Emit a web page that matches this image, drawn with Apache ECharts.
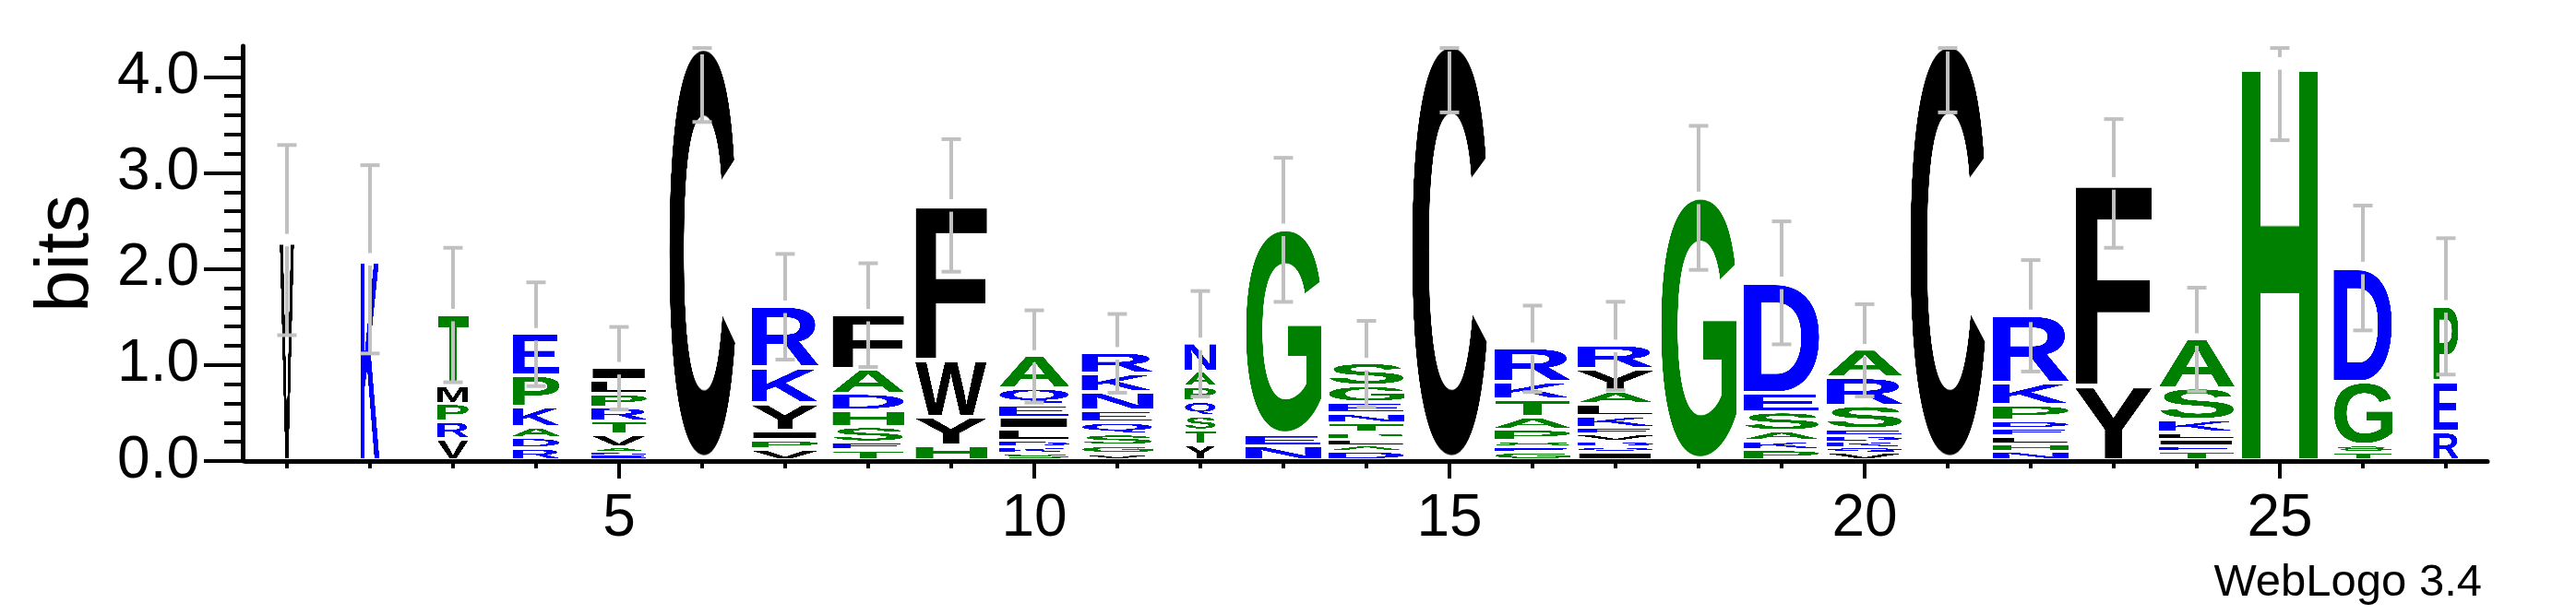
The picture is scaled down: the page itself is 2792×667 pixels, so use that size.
<!DOCTYPE html>
<html>
<head>
<meta charset="utf-8">
<script src="https://cdn.jsdelivr.net/npm/echarts@6/dist/echarts.min.js"></script>
<style>
html,body{margin:0;padding:0;background:#fff;}
#chart{width:2792px;height:667px;}
</style>
</head>
<body>
<div id="chart"></div>
<script>
// ---- data ----
const positions = [1,2,3,4,5,6,7,8,9,10,11,12,13,14,15,16,17,18,19,20,21,22,23,24,25,26,27];
// letters of each stack, bottom to top
const stackLetters = ['V','K','VRPMT','RDAKPE','EDAVTRPLI','C','VPIYKR','TESHDAF','HYWF','SKDLIEQA','VGSQENKR','YTSQPAN','NEG','DALPTNEGS','C','GESPATKR','IQDVEKLAYR','G','PKASED','VQKDESRA','C','NHLEDPKR','YF','TEILKSA','H','TSGD','REP'];
// letter heights in bits, bottom to top
const stackHeights = [
 [2.27],
 [2.07],
 [0.185,0.185,0.185,0.185,0.75],
 [0.09,0.11,0.11,0.21,0.33,0.44],
 [0.026,0.026,0.051,0.131,0.137,0.144,0.14,0.144,0.137],
 [4.27],
 [0.077,0.096,0.096,0.287,0.376,0.644],
 [0.067,0.083,0.163,0.172,0.175,0.255,0.574],
 [0.121,0.297,0.593,1.62],
 [0.041,0.061,0.067,0.12,0.122,0.131,0.172,0.345],
 [0.032,0.083,0.121,0.122,0.124,0.191,0.195,0.223],
 [0.13,0.145,0.15,0.15,0.155,0.16,0.30],
 [0.112,0.118,2.147],
 [0.06,0.06,0.065,0.067,0.099,0.102,0.112,0.175,0.239],
 [4.30],
 [0.05,0.055,0.06,0.121,0.128,0.182,0.185,0.357],
 [0.05,0.055,0.06,0.07,0.07,0.121,0.121,0.131,0.235,0.255],
 [2.71],
 [0.073,0.093,0.102,0.198,0.201,1.158],
 [0.047,0.055,0.06,0.06,0.065,0.246,0.293,0.297],
 [4.30],
 [0.06,0.075,0.078,0.08,0.082,0.163,0.236,0.708],
 [0.74,2.12],
 [0.057,0.06,0.065,0.07,0.131,0.335,0.517],
 [4.11],
 [0.05,0.07,0.66,1.20],
 [0.26,0.53,0.79]
];
// relative stack widths (fraction of sequences without gaps)
const stackWidths = [0.19,0.25,0.41,0.62,0.73,0.88,0.88,0.94,0.94,0.93,0.94,0.41,1,1,1,1,1,1,1,1,1,1,1,1,1,0.77,0.33];
// error bar half-lengths in bits
const errorHalf = [0.99,0.98,0.70,0.54,0.43,0.77,0.55,0.54,0.69,0.48,0.41,0.55,0.75,0.45,0.70,0.45,0.46,0.75,0.64,0.48,0.70,0.58,0.67,0.54,0.80,0.65,0.71];
const xMajorTicks = [5,10,15,20,25];
const yMajorTicks = [0,1,2,3,4];
const yMinorTicks = [0,0.2,0.4,0.6,0.8,1,1.2,1.4,1.6,1.8,2,2.2,2.4,2.6,2.8,3,3.2,3.4,3.6,3.8,4,4.2];
const yMax = 4.32;

// hydrophobicity colour scheme
const colorGroups = [
  {letters:'RKDENQ', color:'#0000ff'},
  {letters:'SGHTAP', color:'#008000'},
  {letters:'YVMCLFIW', color:'#000000'}
];
function letterColor(ch){
  for (const g of colorGroups) if (g.letters.indexOf(ch) >= 0) return g.color;
  return '#000000';
}

// ---- glyph images (tight bounding box, stretched to fill each box) ----
const glyphCache = {};
function glyph(ch){
  if (glyphCache[ch]) return glyphCache[ch];
  const fs = 600;
  const font = 'bold ' + fs + 'px "Liberation Sans", Arial, Helvetica, sans-serif';
  const m0 = document.createElement('canvas').getContext('2d');
  m0.font = font;
  const m = m0.measureText(ch);
  const l = m.actualBoundingBoxLeft, r = m.actualBoundingBoxRight;
  const a = m.actualBoundingBoxAscent, d = m.actualBoundingBoxDescent;
  const cv = document.createElement('canvas');
  cv.width = Math.max(1, Math.floor(l + r));
  cv.height = Math.max(1, Math.floor(a + d));
  const ctx = cv.getContext('2d');
  ctx.font = font;
  ctx.fillStyle = letterColor(ch);
  ctx.textBaseline = 'alphabetic';
  ctx.textAlign = 'left';
  ctx.fillText(ch, l, a);
  glyphCache[ch] = cv;
  return cv;
}

// ---- build series data ----
const stackBase = 0.03; // stacks sit just above the axis line
const letterData = [];
const letterInfo = [];
const errorData = [];
positions.forEach((pos, i) => {
  let y = stackBase;
  const letters = stackLetters[i];
  stackHeights[i].forEach((h, j) => {
    letterData.push([pos, y, y + h, stackWidths[i], j]);
    letterInfo.push(letters[j]);
    y += h;
  });
  errorData.push([pos, y, errorHalf[i]]);
});

const chart = echarts.init(document.getElementById('chart'), null, {renderer:'canvas'});
const labelFont = '"Liberation Sans", Arial, Helvetica, sans-serif';
const colWidth = 0.922;
const barGap = 0.065;
const errClip = 4.3;

const option = {
  animation: false,
  backgroundColor: '#ffffff',
  grid: {left: 266, right: 96, top: 50, bottom: 167, containLabel: false},
  xAxis: [
    {
      type: 'value', min: 0.5, max: 27.5, position: 'bottom',
      axisLine: {show: true, onZero: false, lineStyle: {color: '#000', width: 5}},
      axisTick: {show: true, customValues: positions, length: 8, lineStyle: {color: '#000', width: 4}},
      axisLabel: {show: false},
      splitLine: {show: false}
    },
    {
      type: 'value', min: 0.5, max: 27.5, position: 'bottom',
      axisLine: {show: false},
      axisTick: {show: true, customValues: xMajorTicks, length: 19, lineStyle: {color: '#000', width: 4}},
      axisLabel: {show: true, customValues: xMajorTicks, margin: 31, fontSize: 64, color: '#000', fontFamily: labelFont},
      splitLine: {show: false}
    }
  ],
  yAxis: [
    {
      type: 'value', min: 0, max: yMax, position: 'left', offset: 3,
      axisLine: {show: true, onZero: false, lineStyle: {color: '#000', width: 5}},
      axisTick: {show: true, customValues: yMinorTicks, length: 20, lineStyle: {color: '#000', width: 4}},
      axisLabel: {show: false},
      splitLine: {show: false}
    },
    {
      type: 'value', min: 0, max: yMax, position: 'left', offset: 3,
      axisLine: {show: false},
      axisTick: {show: true, customValues: yMajorTicks, length: 42, lineStyle: {color: '#000', width: 4}},
      axisLabel: {show: true, customValues: yMajorTicks, margin: 47, fontSize: 64, color: '#000', fontFamily: labelFont,
        formatter: v => Number(v).toFixed(1)},
      splitLine: {show: false},
      name: 'bits', nameLocation: 'middle', nameRotate: 90, nameGap: 150,
      nameTextStyle: {fontSize: 82, color: '#000', fontFamily: labelFont}
    }
  ],
  graphic: [
    {type: 'text', right: 102, top: 608, style: {text: 'WebLogo 3.4', fontSize: 49, fill: '#000', fontFamily: labelFont}}
  ],
  series: [
    {
      type: 'custom', xAxisIndex: 0, yAxisIndex: 0, clip: false, z: 2,
      encode: {x: 0, y: [1, 2]},
      data: letterData,
      renderItem: function(params, api){
        const x = api.value(0), y0 = api.value(1), y1 = api.value(2), w = api.value(3), k = api.value(4);
        const ch = letterInfo[params.dataIndex];
        const p0 = api.coord([x, y0]);
        const p1 = api.coord([x, y1]);
        const halfW = api.size([w * colWidth, 0])[0] / 2;
        const hh = p0[1] - p1[1];
        const inset = k === 0 ? 0 : Math.min(3.5, hh * 0.4);
        return {
          type: 'image',
          style: {image: glyph(ch), x: p0[0] - halfW, y: p1[1], width: 2 * halfW, height: Math.max(0.6, hh - inset)}
        };
      }
    },
    {
      type: 'custom', xAxisIndex: 0, yAxisIndex: 0, clip: false, z: 3,
      encode: {x: 0, y: 1},
      data: errorData,
      renderItem: function(params, api){
        const x = api.value(0), top = api.value(1), e = api.value(2);
        const hi = Math.min(top + e, errClip);
        const lo = top - e;
        const pHi = api.coord([x, hi]);
        const pHi2 = api.coord([x, Math.min(top + barGap, hi)]);
        const pLo2 = api.coord([x, top - barGap]);
        const pLo = api.coord([x, lo]);
        const capHalf = 10.5;
        const st = {stroke: '#c0c0c0', lineWidth: 4};
        return {
          type: 'group',
          children: [
            {type: 'line', shape: {x1: pHi[0], y1: pHi[1], x2: pHi2[0], y2: pHi2[1]}, style: st},
            {type: 'line', shape: {x1: pLo2[0], y1: pLo2[1], x2: pLo[0], y2: pLo[1]}, style: st},
            {type: 'line', shape: {x1: pHi[0] - capHalf, y1: pHi[1], x2: pHi[0] + capHalf, y2: pHi[1]}, style: st},
            {type: 'line', shape: {x1: pLo[0] - capHalf, y1: pLo[1], x2: pLo[0] + capHalf, y2: pLo[1]}, style: st}
          ]
        };
      }
    }
  ]
};
chart.setOption(option);
</script>
</body>
</html>
